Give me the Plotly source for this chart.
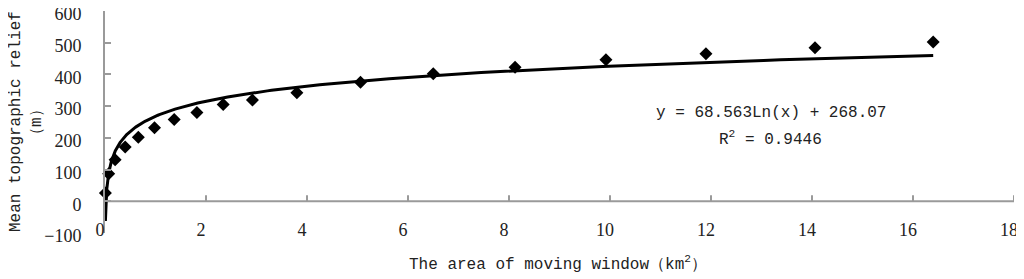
"""Mean topographic relief against moving window area, with log trendline."""

import numpy as np
import plotly.graph_objects as go

# window area (km2) and mean relief (m)
window_area = [0.0081, 0.073, 0.20, 0.40, 0.66, 0.98, 1.37, 1.82, 2.34, 2.92,
               3.80, 5.06, 6.50, 8.12, 9.92, 11.90, 14.06, 16.40]
mean_relief = [26, 87, 131, 171, 202, 232, 258, 280, 305, 319,
               342, 375, 402, 423, 446, 465, 484, 502]

# logarithmic trendline as printed on the chart
trend_slope = 68.563
trend_intercept = 268.07
trend_r2 = 0.9446

x_ticks = list(range(0, 19, 2))
y_ticks = list(range(-100, 601, 100))
X_RANGE = [0, 18]
Y_RANGE = [-100, 600]

# the page body adds an 8px margin, so the figure starts at (8, 8);
# pixel positions below are figure positions (page position minus 8)
FIG_W, FIG_H = 1016, 271
L, R, T, B = 97, 1006, 3, 225
W, H = R - L, B - T


def px(x):
    return (x - 8 - L) / W


def py(y):
    return (B - (y - 8)) / H


trend_x = np.geomspace(min(window_area), max(window_area), 300)
trend_y = trend_slope * np.log(trend_x) + trend_intercept

# horizontal axis crossing at y = 0, with short upward ticks (6 px)
tick_len = 6 * (Y_RANGE[1] - Y_RANGE[0]) / H
axis_x, axis_y = list(X_RANGE), [0, 0]
for xt in x_ticks:
    axis_x += [None, xt, xt]
    axis_y += [None, 0, tick_len]

title_font = {"family": "Liberation Mono, DejaVu Sans Mono, monospace",
              "size": 16, "color": "#222"}
tick_font = {"family": "Liberation Serif, DejaVu Serif, serif",
             "size": 18, "color": "#222"}
axis_grey = "#9a9a9a"

fig = go.Figure()
fig.add_trace(
    go.Scatter(
        x=axis_x,
        y=axis_y,
        mode="lines",
        line={"color": axis_grey, "width": 2},
        connectgaps=False,
        hoverinfo="skip",
    )
)
fig.add_trace(
    go.Scatter(
        x=trend_x,
        y=trend_y,
        mode="lines",
        line={"color": "black", "width": 3},
        hoverinfo="skip",
    )
)
fig.add_trace(
    go.Scatter(
        x=window_area,
        y=mean_relief,
        mode="markers",
        marker={"symbol": "diamond", "color": "black", "size": 10},
        cliponaxis=False,
    )
)

fig.update_layout(
    width=FIG_W,
    height=FIG_H,
    margin={"l": L, "r": FIG_W - R, "t": T, "b": FIG_H - B, "autoexpand": False},
    paper_bgcolor="white",
    plot_bgcolor="white",
    showlegend=False,
    # labels only; pulled up so they sit just above the bottom edge
    xaxis={
        "range": X_RANGE,
        "tickvals": x_ticks,
        "automargin": False,
        "showline": False,
        "ticks": "",
        "showgrid": False,
        "zeroline": False,
        "ticklabelstandoff": -16,
        "ticklabelshift": -5,
        "ticklabeloverflow": "allow",
        "tickfont": tick_font,
    },
    yaxis={
        "range": Y_RANGE,
        "tickvals": y_ticks,
        "automargin": False,
        "showline": True,
        "linecolor": axis_grey,
        "linewidth": 2,
        "ticks": "inside",
        "ticklen": 6,
        "tickcolor": axis_grey,
        "tickwidth": 1.5,
        "showgrid": False,
        "zeroline": False,
        "ticklabelstandoff": 18,
        "ticklabelshift": 3,
        "ticklabeloverflow": "allow",
        "tickfont": tick_font,
    },
)

annotations = [
    ("Mean topographic relief", px(16), 0.5, -90),
    ("（m）", px(37), 0.5, -90),
    ("The area of moving window（km<sup>2</sup>）", px(558), py(263), 0),
    (f"y = {trend_slope}Ln(x) + {trend_intercept}", px(771), py(113), 0),
    (f"R<sup>2</sup> = {trend_r2}", px(770), py(138), 0),
]
for text, x, y, angle in annotations:
    fig.add_annotation(
        text=text,
        x=x,
        y=y,
        xref="paper",
        yref="paper",
        xanchor="center",
        yanchor="middle",
        textangle=angle,
        showarrow=False,
        font=title_font,
    )

fig.write_html("out.html")
